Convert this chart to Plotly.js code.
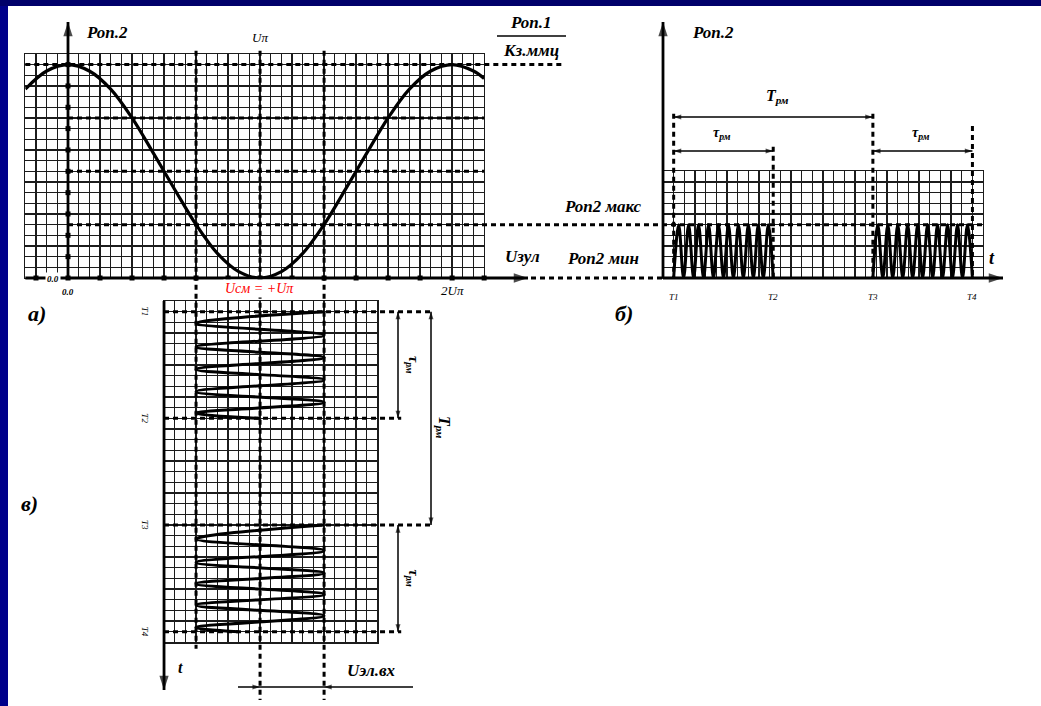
<!DOCTYPE html>
<html>
<head>
<meta charset="utf-8">
<script src="https://cdn.plot.ly/plotly-3.0.1.min.js"></script>
<style>
html,body{margin:0;padding:0;background:#fff;}
#chart{width:1041px;height:706px;}
</style>
</head>
<body>
<div id="chart"></div>
<script>
// ===================== DATA (grid-cell units) =====================
// а) transfer characteristic  Pоп2 = f(Uзул)
const curveU = [-4,-2,0,2,4,6,8,10,12,14,16,18,20,22,24,26,28,30,32,34,36,38,39];
const curveP = [17.7,19.4,20,19.4,17.7,15.0,11.7,8.3,5.0,2.3,0.6,0,0.6,2.3,5.0,8.3,11.7,15.0,17.7,19.4,20,19.4,18.7];
const uPi = 18;                 // Uπ (bias point Uсм = +Uπ)
const uSwing = [12, 24];        // input swing  Uсм ± ΔU
const pLevels = [5, 10, 15, 20];
const aTickU = [-3,0,3,6,9,12,15,18,21,24,27,30,33,36,39];
const aTickP = [2,4,6,8,10,12,14,16,18,20];

// б) output optical power vs time
const bTimes = [1, 10.33, 19.67, 29];
const bTimeLabels = ['T1','T2','T3','T4'];
const bSigT = [1.00,1.47,1.93,2.40,2.87,3.33,3.80,4.27,4.73,5.20,5.67,6.13,6.60,7.07,7.53,8.00,8.47,8.93,9.40,9.87,10.33,null,
               19.67,20.13,20.60,21.07,21.53,22.00,22.47,22.93,23.40,23.87,24.33,24.80,25.27,25.73,26.20,26.67,27.13,27.60,28.07,28.53,29.00];
const bSigP = [0,5,0,5,0,5,0,5,0,5,0,5,0,5,0,5,0,5,0,5,0,null,
               0,5,0,5,0,5,0,5,0,5,0,5,0,5,0,5,0,5,0,5,0];

// в) input electrical signal vs time
const cTimes = [1, 11, 21, 31];
const cTimeLabels = ['T1','T2','T3','T4'];
const cSigT = [1.0,2.1,3.2,4.3,5.3,6.4,7.4,8.5,9.5,10.5,11.0,null,21.0,22.3,23.4,24.5,25.5,26.5,27.5,28.5,29.5,30.6,31.0];
const cSigU = [24,12,24,12,24,12,24,12,24,12,18,null,24,12,24,12,24,12,24,12,24,12,16];

// ===================== LAYOUT GEOMETRY =====================
const W = 1041, H = 706;
const S = 10.67;              // px per grid cell
const X0PX = 68, Y0PX = 278;  // origin of panel а in px
const ux = px => (px - X0PX) / S;
const vy = py => (Y0PX - py) / S;
const B_X0 = ux(663);         // panel б origin (overlay units)
const C_Y0 = vy(301);         // panel в top edge (overlay units)
const bX = c => B_X0 + c;
const cY = t => C_Y0 - t;
const domX = (u0,u1) => [(X0PX + u0*S)/W, (X0PX + u1*S)/W];
const domY = (v0,v1) => [1 - (Y0PX - v0*S)/H, 1 - (Y0PX - v1*S)/H];

function gridAxis(range, domain, anchor){
  return {range, domain, anchor, showgrid:true, gridcolor:'#1c1c1c', gridwidth:1.25,
          tickmode:'linear', tick0:0, dtick:1, showticklabels:false, ticks:'',
          zeroline:false, showline:true, mirror:true, linecolor:'#1c1c1c', linewidth:1.25,
          fixedrange:true};
}

// ---------- overlay segments ----------
const dashSegs = [], thickSegs = [], thinSegs = [];
const seg = (arr,x0,y0,x1,y1) => arr.push([x0,y0,x1,y1]);
const DASH_PEAK_END = ux(563), ZERO_DASH_START = ux(531);
seg(dashSegs, -4, pLevels[3], DASH_PEAK_END, pLevels[3]);
seg(dashSegs, 0, pLevels[2], 39, pLevels[2]);
seg(dashSegs, 0, pLevels[1], 39, pLevels[1]);
seg(dashSegs, 0, pLevels[0], bX(30), pLevels[0]);
seg(dashSegs, ZERO_DASH_START, 0, B_X0, 0);
seg(dashSegs, uSwing[0], 21.3, uSwing[0], cY(32.6));
seg(dashSegs, uPi, 21.3, uPi, vy(700));
seg(dashSegs, uSwing[1], 21.3, uSwing[1], vy(700));
const B_DIM_TOP = vy(117), B_DIM_LOW = vy(151);
seg(dashSegs, bX(bTimes[0]), B_DIM_TOP+0.3, bX(bTimes[0]), 0);
seg(dashSegs, bX(bTimes[1]), B_DIM_LOW+0.4, bX(bTimes[1]), 0);
seg(dashSegs, bX(bTimes[2]), B_DIM_TOP+0.3, bX(bTimes[2]), 0);
seg(dashSegs, bX(bTimes[3]), vy(126), bX(bTimes[3]), 0);
seg(thinSegs, bX(bTimes[0]), B_DIM_TOP, bX(bTimes[2]), B_DIM_TOP);
seg(thinSegs, bX(bTimes[0]), B_DIM_LOW, bX(bTimes[1]), B_DIM_LOW);
seg(thinSegs, bX(bTimes[2]), B_DIM_LOW, bX(bTimes[3]), B_DIM_LOW);
const C_DIM_1 = ux(398), C_DIM_2 = ux(431);
seg(dashSegs, 9, cY(cTimes[0]), C_DIM_2+0.1, cY(cTimes[0]));
seg(dashSegs, 9, cY(cTimes[1]), C_DIM_1+0.3, cY(cTimes[1]));
seg(dashSegs, 9, cY(cTimes[2]), C_DIM_2+0.1, cY(cTimes[2]));
seg(dashSegs, 9, cY(cTimes[3]), C_DIM_1+0.3, cY(cTimes[3]));
seg(thinSegs, C_DIM_1, cY(cTimes[0]), C_DIM_1, cY(cTimes[1]));
seg(thinSegs, C_DIM_1, cY(cTimes[2]), C_DIM_1, cY(cTimes[3]));
seg(thinSegs, C_DIM_2, cY(cTimes[0]), C_DIM_2, cY(cTimes[2]));
const UIN_Y = vy(687);
seg(thinSegs, ux(238), UIN_Y, ux(413), UIN_Y);
seg(thinSegs, ux(497), vy(36), ux(566), vy(36));
const ARROW_TOP = vy(22);
seg(thickSegs, 0, 0, 0, ARROW_TOP);
seg(thickSegs, -4, 0, ux(528), 0);
seg(thickSegs, B_X0, 0, B_X0, ARROW_TOP);
seg(thickSegs, B_X0, 0, ux(1003), 0);
seg(thickSegs, 9, cY(0), 9, vy(690));

function segTrace(segs, line){
  const x=[], y=[];
  segs.forEach(s => { x.push(s[0], s[2], null); y.push(s[1], s[3], null); });
  return {type:'scatter', mode:'lines', x, y, xaxis:'x4', yaxis:'y4', line, hoverinfo:'skip'};
}

const heads = [
  [0, ARROW_TOP, 0, 15], [ux(1003), 0, 90, 15], [B_X0, ARROW_TOP, 0, 15], [ux(528), 0, 90, 15], [9, vy(690), 180, 15],
  [bX(bTimes[0]), B_DIM_TOP, 270, 8], [bX(bTimes[2]), B_DIM_TOP, 90, 8],
  [bX(bTimes[0]), B_DIM_LOW, 270, 8], [bX(bTimes[1]), B_DIM_LOW, 90, 8],
  [bX(bTimes[2]), B_DIM_LOW, 270, 8], [bX(bTimes[3]), B_DIM_LOW, 90, 8],
  [C_DIM_1, cY(cTimes[0]), 0, 8], [C_DIM_1, cY(cTimes[1]), 180, 8],
  [C_DIM_1, cY(cTimes[2]), 0, 8], [C_DIM_1, cY(cTimes[3]), 180, 8],
  [C_DIM_2, cY(cTimes[0]), 0, 8], [C_DIM_2, cY(cTimes[2]), 180, 8],
  [uPi, UIN_Y, 90, 8], [uSwing[1], UIN_Y, 270, 8]
];

const traces = [
  {type:'scatter', mode:'lines', x:curveU, y:curveP, xaxis:'x', yaxis:'y',
   line:{color:'#000', width:3.2, shape:'spline', smoothing:1}, hoverinfo:'skip'},
  {type:'scatter', mode:'lines', x:bSigT, y:bSigP, xaxis:'x2', yaxis:'y2',
   line:{color:'#000', width:3, shape:'spline', smoothing:1}, hoverinfo:'skip'},
  {type:'scatter', mode:'lines', x:cSigU, y:cSigT, xaxis:'x3', yaxis:'y3',
   line:{color:'#000', width:3, shape:'spline', smoothing:1}, hoverinfo:'skip'},
  segTrace(dashSegs, {color:'#000', width:3, dash:'5px,4px'}),
  segTrace(thinSegs, {color:'#000', width:1.5}),
  segTrace(thickSegs, {color:'#000', width:2.8}),
  {type:'scatter', mode:'markers', xaxis:'x4', yaxis:'y4',
   x: aTickU.concat(aTickP.map(()=>0)), y: aTickU.map(()=>0).concat(aTickP),
   marker:{symbol:'square', size:5, color:'#000'}, hoverinfo:'skip'},
  {type:'scatter', mode:'markers', xaxis:'x4', yaxis:'y4',
   x: heads.map(h=>h[0]), y: heads.map(h=>h[1]),
   marker:{symbol:'arrow', size:heads.map(h=>h[3]), angle:heads.map(h=>h[2]), color:'#000', line:{width:0}},
   hoverinfo:'skip'}
];

// ---------- text ----------
const SERIF = 'Liberation Serif';
const ann = [];
function txt(x, y, text, size, o){
  ann.push(Object.assign({x, y, xref:'x4', yref:'y4', text, showarrow:false,
    font:{family:SERIF, size, color:'#000'}, xanchor:'center', yanchor:'middle'}, o||{}));
}
const bi = s => '<b><i>' + s + '</i></b>';
txt(ux(84), vy(32), bi('Роп.2'), 17, {xanchor:'left'});
txt(uPi, vy(37), '<i>Uπ</i>', 13);
txt(ux(530), vy(22), bi('Роп.1'), 17);
txt(ux(531), vy(50), bi('Кз.ммц'), 17);
txt(ux(522), vy(256), bi('Uзул'), 17);
txt(ux(603), vy(206), bi('Роп2 макс'), 17);
txt(ux(603), vy(258), bi('Роп2 мин'), 17);
txt(ux(690), vy(32), bi('Роп.2'), 17, {xanchor:'left'});
txt(ux(992), vy(258), bi('t'), 18);
txt(ux(777), vy(96), bi('T<sub>рм</sub>'), 16);
txt(ux(722), vy(133), bi('τ<sub>рм</sub>'), 14);
txt(ux(921), vy(133), bi('τ<sub>рм</sub>'), 14);
bTimes.forEach((t,i) => txt(bX(t), vy(297), '<i>' + bTimeLabels[i] + '</i>', 9));
txt(ux(53), vy(279), bi('0.0'), 9, {bgcolor:'#fff'});
txt(0, vy(292), bi('0.0'), 9);
txt(2*uPi, vy(290), '<i>2Uπ</i>', 13);
txt(ux(259), vy(288), '<i>Uсм = +Uπ</i>', 14, {bgcolor:'#fff', font:{family:SERIF, size:14, color:'#ff0000'}});
txt(ux(37), vy(313), bi('а)'), 22);
txt(ux(624), vy(313), bi('б)'), 22);
txt(ux(29), vy(503), bi('в)'), 22);
cTimes.forEach((t,i) => txt(ux(145), cY(t), '<i>' + cTimeLabels[i] + '</i>', 9, {textangle:90}));
txt(ux(413), cY((cTimes[0]+cTimes[1])/2), bi('τ<sub>рм</sub>'), 14, {textangle:90});
txt(ux(413), cY((cTimes[2]+cTimes[3])/2), bi('τ<sub>рм</sub>'), 14, {textangle:90});
txt(ux(443), cY(11.8), bi('T<sub>рм</sub>'), 16, {textangle:90});
txt(ux(180), vy(667), bi('t'), 16);
txt(ux(371), vy(670), bi('Uэл.вх'), 17);

const layout = {
  width:W, height:H, margin:{l:0, r:0, t:0, b:0},
  paper_bgcolor:'#ffffff', plot_bgcolor:'rgba(0,0,0,0)', showlegend:false,
  xaxis: gridAxis([-4,39], domX(-4,39), 'y'),
  yaxis: gridAxis([0,21], domY(0,21), 'x'),
  xaxis2: gridAxis([0,30], domX(B_X0, B_X0+30), 'y2'),
  yaxis2: gridAxis([0,10], domY(0,10), 'x2'),
  xaxis3: gridAxis([9,29], domX(9,29), 'y3'),
  yaxis3: gridAxis([32,0], domY(C_Y0-32, C_Y0), 'x3'),
  xaxis4: {range:[ux(0), ux(W)], domain:[0,1], anchor:'y4', visible:false, fixedrange:true},
  yaxis4: {range:[vy(H), vy(0)], domain:[0,1], anchor:'x4', visible:false, fixedrange:true},
  shapes: [
    {type:'rect', xref:'paper', yref:'paper', x0:0, x1:8/W, y0:0, y1:1, fillcolor:'#00008a', line:{width:0}, layer:'above'},
    {type:'rect', xref:'paper', yref:'paper', x0:0, x1:1, y0:1-6/H, y1:1, fillcolor:'#00006a', line:{width:0}, layer:'above'}
  ],
  annotations: ann
};

Plotly.newPlot('chart', traces, layout, {staticPlot:true, displayModeBar:false});
</script>
</body>
</html>
